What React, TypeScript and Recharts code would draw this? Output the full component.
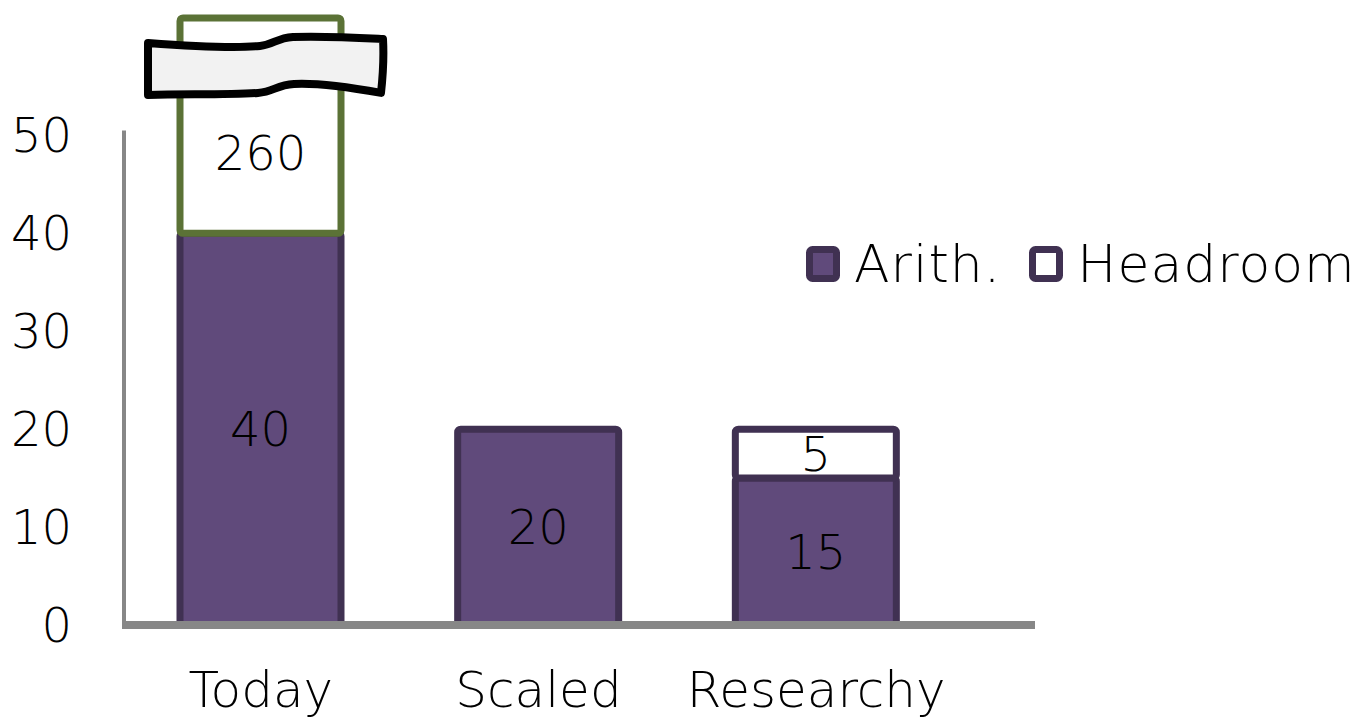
import React from 'react';
import { BarChart, Bar, XAxis, YAxis, ReferenceArea, LabelList } from 'recharts';

const categories = ['Today', 'Scaled', 'Researchy'];
const arith = [40, 20, 15];
// headroom as drawn on the broken axis (Today's real value is 260, shown past the break)
const headroomDrawn = [22, null, 5];
const headroomLabels = ['260', '', '5'];
const brokenBar = [true, false, false];
const yTicks = [0, 10, 20, 30, 40, 50];
const seriesNames = ['Arith.', 'Headroom'];

const data = categories.map((name, i) => ({ name, arith: arith[i], headroom: headroomDrawn[i] }));

const FONT = '"DejaVu Sans", sans-serif';
const WEIGHT = 200;
const PURPLE = '#604a7b';
const PURPLE_DARK = '#403152';
const GREEN = '#5b7236';
const AXIS = '#878787';
const headroomStroke = [GREEN, PURPLE_DARK, PURPLE_DARK];

const BREAK_PATH =
  'M0,2 C40,5 90,7 112,5 C126,4 128,-3 145,-4 C180,-5 215,-3 235,-2 ' +
  'C236,16 235,34 233,52 C200,46 165,42 146,43 C128,44 126,51 110,52 C80,54 40,53 0,54 Z';

const ArithShape = (props: any) => {
  const { x, y, width, height } = props;
  if (!height) return null;
  return <rect x={x} y={y} width={width} height={height} rx={3} fill={PURPLE} stroke={PURPLE_DARK} strokeWidth={7} />;
};

const HeadroomShape = (props: any) => {
  const { x, y, width, height, index } = props;
  if (!height) return null;
  return (
    <g>
      <rect x={x} y={y} width={width} height={height} rx={3} fill="#fff" stroke={headroomStroke[index]} strokeWidth={7} />
      {brokenBar[index] && (
        <path d={BREAK_PATH} transform={`translate(${x - 32},${y + 23})`} fill="#f2f2f2" stroke="#000" strokeWidth={8} strokeLinejoin="round" />
      )}
    </g>
  );
};

const HeadroomLabel = (props: any) => {
  const { x, y, width, height, index } = props;
  const text = headroomLabels[index];
  if (!text || !height) return null;
  const top = brokenBar[index] ? y + 55 : y;
  return (
    <text x={x + width / 2} y={(top + y + height) / 2} textAnchor="middle" dominantBaseline="central"
      fontSize={48} fontFamily={FONT} fontWeight={WEIGHT} fill="#000">
      {text}
    </text>
  );
};

const YLine = (props: any) => {
  const { x, y, height } = props;
  return <line x1={x + 2} y1={y} x2={x + 2} y2={y + height} stroke={AXIS} strokeWidth={4} />;
};

const legendFills = [PURPLE, '#fff'];

const ChartLegend = () => (
  <div style={{ position: 'absolute', left: 798, top: 226, display: 'flex', alignItems: 'center',
    fontFamily: FONT, fontWeight: WEIGHT, fontSize: 52, letterSpacing: 1, color: '#000', lineHeight: '60px' }}>
    {seriesNames.map((n, i) => (
      <React.Fragment key={n}>
        <svg width={34} height={36} style={{ marginRight: 14 }}>
          <rect x={3.5} y={3.5} width={27} height={29} rx={3} fill={legendFills[i]} stroke={PURPLE_DARK} strokeWidth={7} />
        </svg>
        <span style={{ marginRight: i === 0 ? 28 : 0 }}>{n}</span>
      </React.Fragment>
    ))}
  </div>
);

export default function App() {
  return (
    <div style={{ position: 'relative', width: 1361, height: 710 }}>
      <BarChart width={1361} height={710} data={data} margin={{ top: 5, right: 334, bottom: 0, left: 0 }}>
        <XAxis
          dataKey="name"
          height={93}
          padding={{ left: 0, right: 80 }}
          axisLine={{ stroke: AXIS, strokeWidth: 8 }}
          tickLine={false}
          tickSize={0}
          tickMargin={46}
          tick={{ fill: '#000', fontSize: 50, fontFamily: FONT, fontWeight: WEIGHT }}
        />
        <YAxis
          width={114}
          domain={[0, 62.5]}
          ticks={yTicks}
          axisLine={false}
          tickLine={false}
          tickSize={0}
          tickMargin={50}
          tick={{ fill: '#000', fontSize: 48, fontFamily: FONT, fontWeight: WEIGHT }}
        />
        <ReferenceArea y1={0} y2={50.5} shape={YLine} ifOverflow="visible" />
        <Bar dataKey="arith" stackId="a" barSize={161} shape={ArithShape} isAnimationActive={false}>
          <LabelList dataKey="arith" position="center" fill="#000" fontSize={48} fontFamily={FONT} fontWeight={WEIGHT} />
        </Bar>
        <Bar dataKey="headroom" stackId="a" barSize={161} shape={HeadroomShape} isAnimationActive={false}>
          <LabelList dataKey="headroom" content={HeadroomLabel} />
        </Bar>
      </BarChart>
      <ChartLegend />
    </div>
  );
}
